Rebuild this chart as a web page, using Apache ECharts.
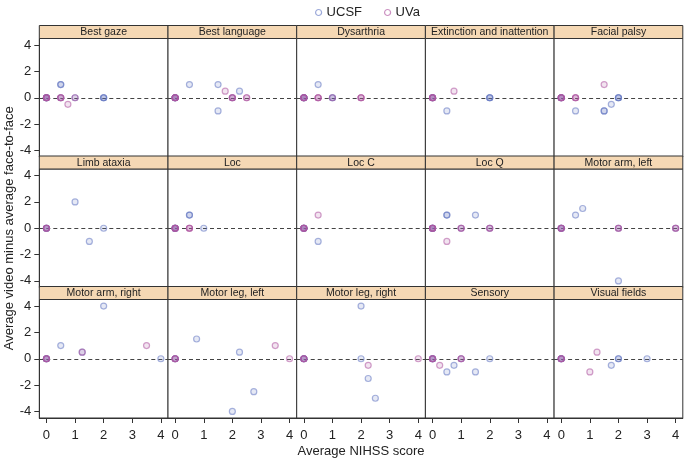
<!DOCTYPE html>
<html><head><meta charset="utf-8">
<script src="https://cdn.jsdelivr.net/npm/echarts@6/dist/echarts.min.js"></script>
<style>html,body{margin:0;padding:0;background:#fff}#c{width:685px;height:459px}</style>
</head><body><div id="c"></div>
<script>
const panels = ["Best gaze","Best language","Dysarthria","Extinction and inattention","Facial palsy",
  "Limb ataxia","Loc","Loc C","Loc Q","Motor arm, left",
  "Motor arm, right","Motor leg, left","Motor leg, right","Sensory","Visual fields"];
const xTicks = [0,1,2,3,4];
const yTicks = [-4,-2,0,2,4];
// [x, y] points per panel (duplicates = overlapping observations)
const ucsf = [
  [[0,0],[0,0],[0,0],[0,0],[0.5,1],[0.5,1],[0.5,0],[1,0],[2,0],[2,0],[2,0]],
  [[0,0],[0,0],[0,0],[0,0],[0.5,1],[1.5,1],[1.5,-1],[2,0],[2.25,0.5]],
  [[0,0],[0,0],[0,0],[0,0],[0.5,1],[1,0],[1,0]],
  [[0,0],[0,0],[0,0],[0.5,-1],[2,0],[2,0],[2,0]],
  [[0,0],[0,0],[0,0],[0.5,-1],[1.5,-1],[1.5,-1],[1.75,-0.5],[2,0],[2,0],[2,0]],
  [[0,0],[0,0],[0,0],[1,2],[1.5,-1],[2,0]],
  [[0,0],[0,0],[0,0],[0,0],[0.5,1],[0.5,1],[1,0]],
  [[0,0],[0,0],[0,0],[0,0],[0.5,-1]],
  [[0,0],[0,0],[0,0],[0,0],[0.5,1],[0.5,1],[1,0],[1.5,1],[2,0]],
  [[0,0],[0,0],[0,0],[0.5,1],[0.75,1.5],[2,0],[2,-4],[4,0]],
  [[0,0],[0,0],[0,0],[0.5,1],[1.25,0.5],[2,4],[4,0]],
  [[0,0],[0,0],[0.75,1.5],[2,-4],[2.25,0.5],[2.75,-2.5]],
  [[0,0],[0,0],[0,0],[2,4],[2,0],[2.25,-1.5],[2.5,-3]],
  [[0,0],[0,0],[0,0],[0.5,-1],[0.75,-0.5],[1,0],[1.5,-1],[2,0]],
  [[0,0],[0,0],[0,0],[1.75,-0.5],[2,0],[2,0],[3,0]]
];
const uva = [
  [[0,0],[0,0],[0,0],[0,0],[0.5,0],[0.5,0],[0.5,0],[0.75,-0.5],[1,0]],
  [[0,0],[0,0],[0,0],[0,0],[1.75,0.5],[2,0],[2,0],[2,0],[2.5,0],[2.5,0]],
  [[0,0],[0,0],[0,0],[0,0],[0.5,0],[0.5,0],[0.5,0],[1,0],[2,0],[2,0],[2,0]],
  [[0,0],[0,0],[0,0],[0,0],[0.75,0.5]],
  [[0,0],[0,0],[0,0],[0,0],[0.5,0],[0.5,0],[0.5,0],[1.5,1]],
  [[0,0],[0,0],[0,0]],
  [[0,0],[0,0],[0,0],[0,0],[0.5,0],[0.5,0],[0.5,0]],
  [[0,0],[0,0],[0,0],[0,0],[0.5,1]],
  [[0,0],[0,0],[0,0],[0,0],[0.5,-1],[1,0],[1,0],[2,0],[2,0]],
  [[0,0],[0,0],[0,0],[2,0],[2,0],[4,0],[4,0]],
  [[0,0],[0,0],[0,0],[1.25,0.5],[3.5,1]],
  [[0,0],[0,0],[0,0],[3.5,1],[4,0]],
  [[0,0],[0,0],[0,0],[2.25,-0.5],[4,0]],
  [[0,0],[0,0],[0,0],[0.25,-0.5],[1,0],[1,0]],
  [[0,0],[0,0],[0,0],[1,-1],[1.25,0.5]]
];

const FONT = '"Liberation Sans", Arial, sans-serif';
const L0 = 39.3, COLW = 128.7, T0 = 25.5, HDR = 13, PLOTH = 118.5, ROWSTEP = 130.5;
const blue = [100,120,195], pink = [175,85,160];
const rgba = (c,a) => `rgba(${c[0]},${c[1]},${c[2]},${a})`;

const grids = [], xAxes = [], yAxes = [], series = [], graphics = [];
panels.forEach((name, i) => {
  const r = Math.floor(i / 5), c = i % 5;
  const left = L0 + c * COLW, top = T0 + r * ROWSTEP + HDR;
  grids.push({left, top, width: COLW, height: PLOTH, show: true, borderColor: '#333', borderWidth: 1,
    backgroundColor: '#fff', containLabel: false, outerBoundsMode: 'none'});
  const bottomRow = r === 2, leftCol = c === 0;
  xAxes.push({
    type: 'value', gridIndex: i, min: -0.25, max: 4.25,
    axisLine: {show: bottomRow, onZero: false, lineStyle: {color: '#333'}},
    axisTick: {show: bottomRow, customValues: xTicks, length: 5, lineStyle: {color: '#333'}},
    axisLabel: {show: bottomRow, customValues: xTicks, color: '#222', fontSize: 13, fontFamily: FONT, margin: 11},
    splitLine: {show: false},
    name: (bottomRow && c === 2) ? 'Average NIHSS score' : '',
    nameLocation: 'middle', nameGap: 27,
    nameTextStyle: {color: '#222', fontSize: 13, fontFamily: FONT}
  });
  yAxes.push({
    type: 'value', gridIndex: i, min: -4.5, max: 4.5,
    axisLine: {show: leftCol, onZero: false, lineStyle: {color: '#333'}},
    axisTick: {show: leftCol, customValues: yTicks, length: 5, lineStyle: {color: '#333'}},
    axisLabel: {show: leftCol, customValues: yTicks, color: '#222', fontSize: 13, fontFamily: FONT, margin: 8},
    splitLine: {show: false},
    name: (leftCol && r === 1) ? 'Average video minus average face-to-face' : '',
    nameLocation: 'middle', nameGap: 23, nameRotate: 90,
    nameTextStyle: {color: '#222', fontSize: 13, fontFamily: FONT}
  });
  const mk = (sname, data, col, withLine) => ({
    name: sname, type: 'scatter', xAxisIndex: i, yAxisIndex: i, data,
    symbol: 'circle', symbolSize: 6,
    itemStyle: {color: rgba(col, 0.2), borderColor: rgba(col, 0.7), borderWidth: 1.2},
    emphasis: {disabled: true}, z: 3,
    markLine: withLine ? {silent: true, symbol: 'none', label: {show: false},
      lineStyle: {color: '#444', type: [4, 3], width: 1.2}, data: [{yAxis: 0}], z: 2} : undefined
  });
  series.push(mk('UCSF', ucsf[i], blue, true));
  series.push(mk('UVa', uva[i], pink, false));
  graphics.push({type: 'rect', shape: {x: left, y: top - HDR, width: COLW, height: HDR},
    style: {fill: '#f5d8b4', stroke: '#333', lineWidth: 1}, z: 10});
  graphics.push({type: 'text', x: left + COLW / 2, y: top - HDR / 2 + 0.5,
    style: {text: name, fill: '#222', font: '10.5px ' + FONT, textAlign: 'center', textVerticalAlign: 'middle'}, z: 11});
});

const chart = echarts.init(document.getElementById('c'), null, {renderer: 'canvas'});
chart.setOption({
  animation: false,
  legend: {top: 1, left: 310, itemWidth: 6, itemHeight: 6, itemGap: 22, icon: 'circle',
    data: [{name: 'UCSF', itemStyle: {color: 'rgba(255,255,255,0)', borderColor: rgba(blue, 0.8), borderWidth: 1.2}},
           {name: 'UVa', itemStyle: {color: 'rgba(255,255,255,0)', borderColor: rgba(pink, 0.8), borderWidth: 1.2}}],
    textStyle: {color: '#222', fontSize: 13, fontFamily: FONT}},
  grid: grids, xAxis: xAxes, yAxis: yAxes, series, graphic: graphics
});
</script></body></html>
